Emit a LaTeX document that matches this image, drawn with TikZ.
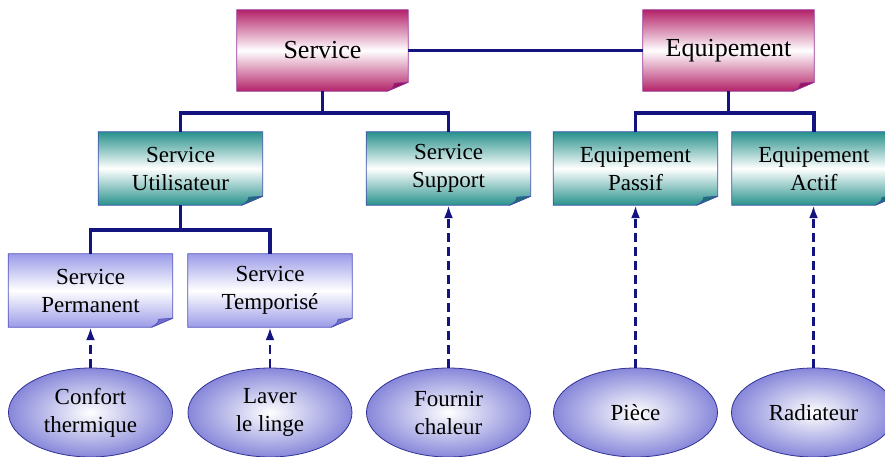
\documentclass[tikz,border=0pt]{standalone}
\usepackage{fontspec}
\setmainfont{Liberation Serif}
\usetikzlibrary{shapes.geometric,arrows.meta,backgrounds}
\definecolor{navy}{RGB}{20,20,128}
\definecolor{pinkdark}{RGB}{180,35,105}
\definecolor{pinkedge}{RGB}{150,50,150}
\definecolor{pinkfold}{RGB}{150,20,100}
\definecolor{tealdark}{RGB}{40,145,140}
\definecolor{tealedge}{RGB}{60,80,170}
\definecolor{tealfold}{RGB}{30,110,120}
\definecolor{lavdark}{RGB}{155,155,232}
\definecolor{lavedge}{RGB}{80,80,190}
\definecolor{lavfold}{RGB}{110,110,200}
\definecolor{ellout}{RGB}{135,135,218}
\definecolor{elledge}{RGB}{50,50,150}
\newcommand\drawfold[4]{%
  \path[top color=#2, bottom color=#2, middle color=white, draw=#3, line width=0.8pt]
    (#1.north west) -- (#1.north east) -- ([yshift=9pt]#1.south east)
    -- ([xshift=-21pt]#1.south east) -- (#1.south west) -- cycle;
  \path[fill=#4, draw=#3, line width=0.6pt, line join=round]
    ([xshift=-21pt]#1.south east) .. controls ([xshift=-15pt,yshift=4pt]#1.south east) .. ([xshift=-14pt,yshift=8pt]#1.south east)
    -- ([yshift=9pt]#1.south east) -- cycle;
}
\tikzset{
  x=1pt, y=-1pt,
  boxnode/.style={rectangle, inner sep=0pt, align=center, text=black,
    font=\fontsize{23}{28}\selectfont},
  topbox/.style={boxnode, minimum width=171pt, minimum height=81pt,
    font=\fontsize{26}{31}\selectfont},
  midbox/.style={boxnode, minimum width=164pt, minimum height=73pt},
  lowbox/.style={boxnode, minimum width=164pt, minimum height=73pt},
  ellnode/.style={ellipse, inner sep=0pt, minimum width=164pt, minimum height=89pt,
    inner color=white, outer color=ellout, draw=elledge, line width=0.8pt,
    align=center, font=\fontsize{23}{28}\selectfont},
  treeline/.style={draw=navy, line width=3.2pt},
  deparrow/.style={draw=navy, line width=2.5pt, dash pattern=on 9pt off 5pt,
    -{Latex[length=13pt,width=9pt]}},
}
\begin{document}
\begin{tikzpicture}
\useasboundingbox (0,0) rectangle (885,457);
% top level
\node[topbox] (service) at (322.5,50.5) {Service};
\node[topbox] (equip) at (728.5,50.5) {Equipement};
% second level
\node[midbox] (util) at (180.5,168.5) {Service\\Utilisateur};
\node[midbox] (support) at (448.5,168.5) {Service\\Support};
\node[midbox] (passif) at (635.5,168.5) {Equipement\\Passif};
\node[midbox] (actif) at (814,168.5) {Equipement\\Actif};
% third level
\node[lowbox] (perm) at (90.5,290.5) {Service\\Permanent};
\node[lowbox] (tempo) at (270,290.5) {Service\\Temporisé};
% ellipses
\node[ellnode] (confort) at (90.5,412.5) {Confort\\thermique};
\node[ellnode] (laver) at (270,412.5) {Laver\\le linge};
\node[ellnode] (fournir) at (448.5,412.5) {Fournir\\chaleur};
\node[ellnode] (piece) at (635.5,412.5) {Pièce};
\node[ellnode] (radiateur) at (813.5,412.5) {Radiateur};
% box shapes
\begin{pgfonlayer}{background}
\drawfold{service}{pinkdark}{pinkedge}{pinkfold}
\drawfold{equip}{pinkdark}{pinkedge}{pinkfold}
\drawfold{util}{tealdark}{tealedge}{tealfold}
\drawfold{support}{tealdark}{tealedge}{tealfold}
\drawfold{passif}{tealdark}{tealedge}{tealfold}
\drawfold{actif}{tealdark}{tealedge}{tealfold}
\drawfold{perm}{lavdark}{lavedge}{lavfold}
\drawfold{tempo}{lavdark}{lavedge}{lavfold}
\end{pgfonlayer}
% bus coordinates
\coordinate (busA) at (0,113);
\coordinate (busB) at (0,230);
% tree connectors
\draw[treeline] (service.east) -- (equip.west);
\draw[treeline] (service.south) -- (service.south |- busA) -| (util.north);
\draw[treeline] (service.south |- busA) -| (support.north);
\draw[treeline] (equip.south) -- (equip.south |- busA) -| (passif.north);
\draw[treeline] (equip.south |- busA) -| (actif.north);
\draw[treeline] (util.south) -- (util.south |- busB) -| (perm.north);
\draw[treeline] (util.south |- busB) -| (tempo.north);
% dependency arrows
\draw[deparrow] (confort.north) -- (perm.south);
\draw[deparrow] (laver.north) -- (tempo.south);
\draw[deparrow] (fournir.north) -- (support.south);
\draw[deparrow] (piece.north) -- (passif.south);
\draw[deparrow] (radiateur.north) -- (radiateur.north |- actif.south);
\end{tikzpicture}
\end{document}
